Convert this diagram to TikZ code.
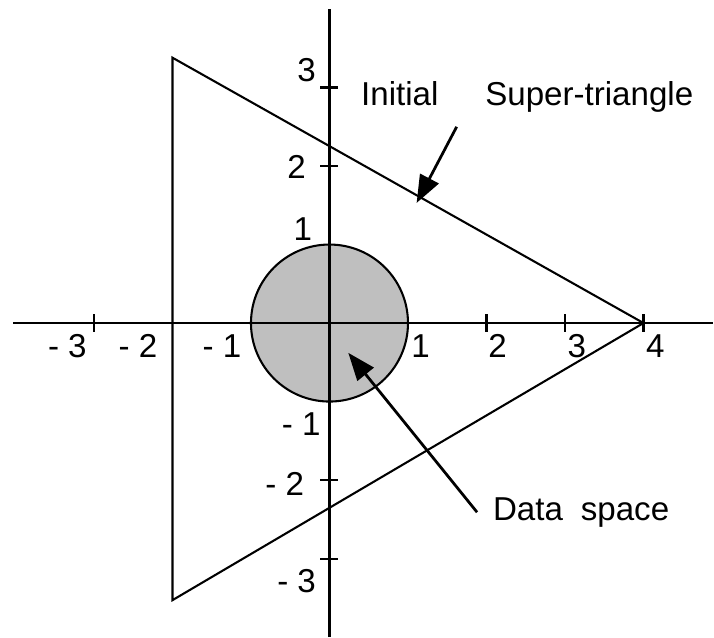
\documentclass[tikz,border=0pt]{standalone}
\usepackage{fontspec}
\setmainfont{Liberation Sans}
\usetikzlibrary{arrows.meta}

\begin{document}
\begin{tikzpicture}[line width=0.75pt, font=\fontsize{12}{14}\selectfont,
	lbl/.style={inner sep=0pt},
	tick/.style={line width=0.75pt},
	pointer/.style={-{Triangle[length=10pt, width=7.5pt]}, line width=1pt}]
	\useasboundingbox (-4.197, -4.0) rectangle (4.898, 4.115);
	% Data space and super-triangle:
	\draw[fill=black!25] (0, 0) circle (1);
	\coordinate (top) at (-2, 3.38);
	\coordinate (apex) at (4, 0);
	\coordinate (bottom) at (-2, -3.53);
	\draw (top) -- (apex) -- (bottom) -- cycle;
	% Axes:
	\coordinate (xmin) at (-4.03, 0);
	\coordinate (xmax) at (4.88, 0);
	\coordinate (ymin) at (0, -4.0);
	\coordinate (ymax) at (0, 4.0);
	\draw (xmin) -- (xmax);
	\draw (ymin) -- (ymax);
	\foreach \x in {-3, 2, 3, 4}
		\draw[tick] (\x, -0.11) -- (\x, 0.11);
	\foreach \y in {-3, -2, 2, 3}
		\draw[tick] (-0.12, \y) -- (0.11, \y);
	% Tick labels:
	\node[lbl, anchor=east] (xm3) at (-3.08, -0.29) {- 3};
	\node[lbl, anchor=east] (xm2) at (-2.18, -0.29) {- 2};
	\node[lbl, anchor=east] (xm1) at (-1.11, -0.29) {- 1};
	\node[lbl, anchor=west] (xp1) at (1.03, -0.29) {1};
	\node[lbl, anchor=west] (xp2) at (2.01, -0.29) {2};
	\node[lbl, anchor=west] (xp3) at (3.02, -0.29) {3};
	\node[lbl, anchor=west] (xp4) at (4.02, -0.29) {4};
	\node[lbl, anchor=east] (yp3) at (-0.16, 3.22) {3};
	\node[lbl, anchor=east] (yp2) at (-0.29, 1.99) {2};
	\node[lbl, anchor=east] (yp1) at (-0.21, 1.20) {1};
	\node[lbl, anchor=east] (ym1) at (-0.10, -1.29) {- 1};
	\node[lbl, anchor=east] (ym2) at (-0.31, -2.05) {- 2};
	\node[lbl, anchor=east] (ym3) at (-0.16, -3.29) {- 3};
	% Labels and pointers:
	\node[lbl, anchor=west] (super) at (0.39, 2.88) {Initial\hspace{17pt}Super-triangle};
	\node[lbl, anchor=west] (data) at (2.07, -2.41) {Data\hspace{6.5pt}space};
	\coordinate (superfrom) at (1.62, 2.50);
	\coordinate (superto) at (1.11, 1.53);
	\coordinate (datafrom) at (1.88, -2.41);
	\coordinate (datato) at (0.24, -0.38);
	\draw[pointer] (superfrom) -- (superto);
	\draw[pointer] (datafrom) -- (datato);
\end{tikzpicture}
\end{document}
